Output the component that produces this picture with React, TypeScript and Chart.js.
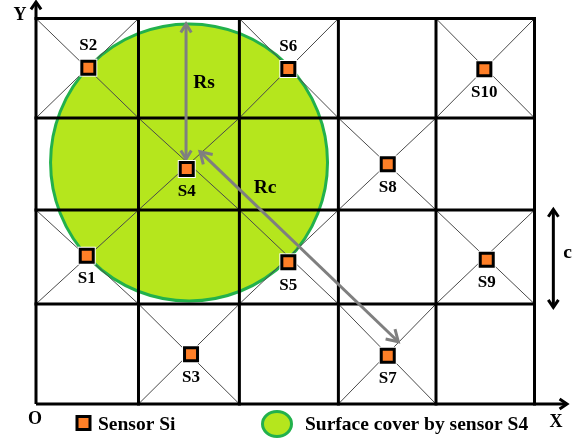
import React, { useEffect, useRef } from 'react';
import { Chart, registerables } from 'chart.js';

Chart.register(...registerables);

// ---- Data (diagram units: x = cell columns, y = cell rows) ----
const sensorNames = ['S1', 'S2', 'S3', 'S4', 'S5', 'S6', 'S7', 'S8', 'S9', 'S10'];
const sensorX = [0.509, 0.525, 1.555, 1.512, 2.531, 2.531, 3.528, 3.528, 4.521, 4.497];
const sensorY = [1.539, 3.49, 0.516, 2.438, 1.47, 3.476, 0.501, 2.487, 1.497, 3.473];
const labelAbove = [false, true, false, false, false, true, false, false, false, false];

const xGrid = [0, 1.028, 2.04, 3.033, 4.012, 5];
const yGrid = [0, 1.038, 2.013, 2.968, 4];

const coverCenter = [1.535, 2.506];
const coverRadius = 1.389; // in x units

const rsArrow = [[1.505, 2.542], [1.505, 3.943]];
const rcArrow = [[1.645, 2.618], [3.634, 0.646]];
const cArrow = [[5.189, 2.02], [5.189, 1.003]];
const rsLabel = [1.685, 3.331];
const rcLabel = [2.297, 2.241];
const cLabel = [5.333, 1.57];
const xAxisEnd = 5.326;
const yAxisEnd = 4.171;

const ORANGE = '#FF7F27';
const LIME = '#B5E61D';
const GREEN = '#22B14C';
const GRAY = '#7F7F7F';
const FONT = '"Liberation Serif", "Times New Roman", serif';

function drawHead(ctx: CanvasRenderingContext2D, fx: number, fy: number, tx: number, ty: number, len: number, ang: number) {
  const a = Math.atan2(ty - fy, tx - fx);
  ctx.beginPath();
  ctx.moveTo(tx - len * Math.cos(a - ang), ty - len * Math.sin(a - ang));
  ctx.lineTo(tx, ty);
  ctx.lineTo(tx - len * Math.cos(a + ang), ty - len * Math.sin(a + ang));
  ctx.stroke();
}

function drawArrow(ctx: CanvasRenderingContext2D, x1: number, y1: number, x2: number, y2: number, color: string, w: number, both: boolean, len = 10, ang = 0.6) {
  ctx.save();
  ctx.strokeStyle = color;
  ctx.lineWidth = w;
  ctx.lineCap = 'butt';
  ctx.lineJoin = 'miter';
  ctx.beginPath();
  ctx.moveTo(x1, y1);
  ctx.lineTo(x2, y2);
  ctx.stroke();
  drawHead(ctx, x1, y1, x2, y2, len, ang);
  if (both) drawHead(ctx, x2, y2, x1, y1, len, ang);
  ctx.restore();
}

const diagramPlugin = {
  id: 'diagram',
  beforeDatasetsDraw(chart: any) {
    const { ctx } = chart;
    const xs = chart.scales.x;
    const ys = chart.scales.y;
    const px = (v: number) => xs.getPixelForValue(v);
    const py = (v: number) => ys.getPixelForValue(v);
    ctx.save();
    ctx.fillStyle = '#fff';
    ctx.fillRect(0, 0, chart.width, chart.height);

    // coverage circle
    const cx = px(coverCenter[0]);
    const cy = py(coverCenter[1]);
    const r = Math.abs(px(coverRadius) - px(0));
    ctx.beginPath();
    ctx.arc(cx, cy, r, 0, Math.PI * 2);
    ctx.fillStyle = LIME;
    ctx.fill();
    ctx.lineWidth = 3;
    ctx.strokeStyle = GREEN;
    ctx.stroke();

    // diagonals of sensor cells
    ctx.lineWidth = 1;
    ctx.strokeStyle = '#4a4a4a';
    for (let k = 0; k < sensorX.length; k++) {
      let i = 0;
      while (i < xGrid.length - 2 && sensorX[k] >= xGrid[i + 1]) i++;
      let j = 0;
      while (j < yGrid.length - 2 && sensorY[k] >= yGrid[j + 1]) j++;
      const l = px(xGrid[i]), rr = px(xGrid[i + 1]);
      const b = py(yGrid[j]), t = py(yGrid[j + 1]);
      ctx.beginPath();
      ctx.moveTo(l, t); ctx.lineTo(rr, b);
      ctx.moveTo(rr, t); ctx.lineTo(l, b);
      ctx.stroke();
    }

    // grid lines
    ctx.strokeStyle = '#000';
    ctx.lineWidth = 3;
    ctx.lineCap = 'square';
    for (let i = 1; i < xGrid.length; i++) {
      ctx.beginPath();
      ctx.moveTo(px(xGrid[i]), py(yGrid[0]));
      ctx.lineTo(px(xGrid[i]), py(yGrid[yGrid.length - 1]));
      ctx.stroke();
    }
    for (let j = 1; j < yGrid.length; j++) {
      ctx.beginPath();
      ctx.moveTo(px(xGrid[0]), py(yGrid[j]));
      ctx.lineTo(px(xGrid[xGrid.length - 1]), py(yGrid[j]));
      ctx.stroke();
    }
    ctx.lineCap = 'butt';
    // axes
    drawArrow(ctx, px(0), py(0), px(0), py(yAxisEnd), '#000', 3, false, 9, 0.6);
    drawArrow(ctx, px(0), py(0), px(xAxisEnd), py(0), '#000', 3, false, 9, 0.6);

    // arrows
    drawArrow(ctx, px(rsArrow[0][0]), py(rsArrow[0][1]), px(rsArrow[1][0]), py(rsArrow[1][1]), GRAY, 3, true, 10, 0.55);
    drawArrow(ctx, px(rcArrow[0][0]), py(rcArrow[0][1]), px(rcArrow[1][0]), py(rcArrow[1][1]), GRAY, 3, true, 13, 0.55);
    drawArrow(ctx, px(cArrow[0][0]), py(cArrow[0][1]), px(cArrow[1][0]), py(cArrow[1][1]), '#000', 3, true, 9, 0.6);
    ctx.restore();
  },
  afterDatasetsDraw(chart: any) {
    const { ctx } = chart;
    const xs = chart.scales.x;
    const ys = chart.scales.y;
    const px = (v: number) => xs.getPixelForValue(v);
    const py = (v: number) => ys.getPixelForValue(v);
    ctx.save();
    ctx.fillStyle = '#000';
    ctx.textAlign = 'center';
    ctx.textBaseline = 'middle';
    ctx.font = `bold 17px ${FONT}`;
    for (let k = 0; k < sensorNames.length; k++) {
      const off = labelAbove[k] ? -22 : 23;
      ctx.fillText(sensorNames[k], px(sensorX[k]), py(sensorY[k]) + off);
    }
    ctx.font = `bold 19.5px ${FONT}`;
    ctx.fillText('Rs', px(rsLabel[0]), py(rsLabel[1]));
    ctx.fillText('Rc', px(rcLabel[0]), py(rcLabel[1]));
    ctx.fillText('c', px(cLabel[0]), py(cLabel[1]));
    ctx.font = `bold 18px ${FONT}`;
    ctx.fillText('Y', px(0) - 16, py(yAxisEnd) + 13);
    ctx.fillText('X', px(xAxisEnd) - 11, py(0) + 18);
    ctx.fillText('O', px(0) - 1, py(0) + 15);

    // legend
    const ly = 424;
    ctx.fillStyle = ORANGE;
    ctx.fillRect(77, ly - 7.5, 13, 13);
    ctx.strokeStyle = '#000';
    ctx.lineWidth = 3;
    ctx.strokeRect(77, ly - 7.5, 13, 13);
    ctx.beginPath();
    ctx.ellipse(277, ly, 14.5, 12.5, 0, 0, Math.PI * 2);
    ctx.fillStyle = LIME;
    ctx.fill();
    ctx.strokeStyle = GREEN;
    ctx.stroke();
    ctx.fillStyle = '#000';
    ctx.textAlign = 'left';
    ctx.font = `bold 19.5px ${FONT}`;
    ctx.fillText('Sensor Si', 98, ly + 1);
    ctx.fillText('Surface cover by sensor S4', 305, ly + 1);
    ctx.restore();
  },
};

export default function App() {
  const ref = useRef<HTMLCanvasElement | null>(null);
  useEffect(() => {
    if (!ref.current) return;
    const pts = sensorX.map((v, i) => ({ x: v, y: sensorY[i] }));
    const chart = new Chart(ref.current, {
      type: 'scatter',
      data: {
        datasets: [
          {
            label: 'Sensor Si',
            data: pts,
            pointStyle: 'rect',
            pointRadius: 9.2,
            backgroundColor: ORANGE,
            borderColor: '#000',
            borderWidth: 3,
            clip: false,
          } as any,
          {
            label: 'halo',
            data: pts,
            pointStyle: 'rect',
            pointRadius: 12.7,
            backgroundColor: '#fff',
            borderWidth: 0,
            clip: false,
          } as any,
        ],
      },
      options: {
        responsive: false,
        animation: false,
        events: [],
        layout: { padding: { left: 36, right: 43.5, top: 18.5, bottom: 35 } },
        plugins: { legend: { display: false }, tooltip: { enabled: false } },
        scales: {
          x: { type: 'linear', min: 0, max: 5, display: false },
          y: { type: 'linear', min: 0, max: 4, display: false },
        },
      },
      plugins: [diagramPlugin],
    });
    return () => chart.destroy();
  }, []);
  return (
    <div style={{ position: 'absolute', left: 0, top: 0, width: 578, height: 439, background: '#fff' }}>
      <canvas ref={ref} width={578} height={439} style={{ width: 578, height: 439 }} />
    </div>
  );
}
